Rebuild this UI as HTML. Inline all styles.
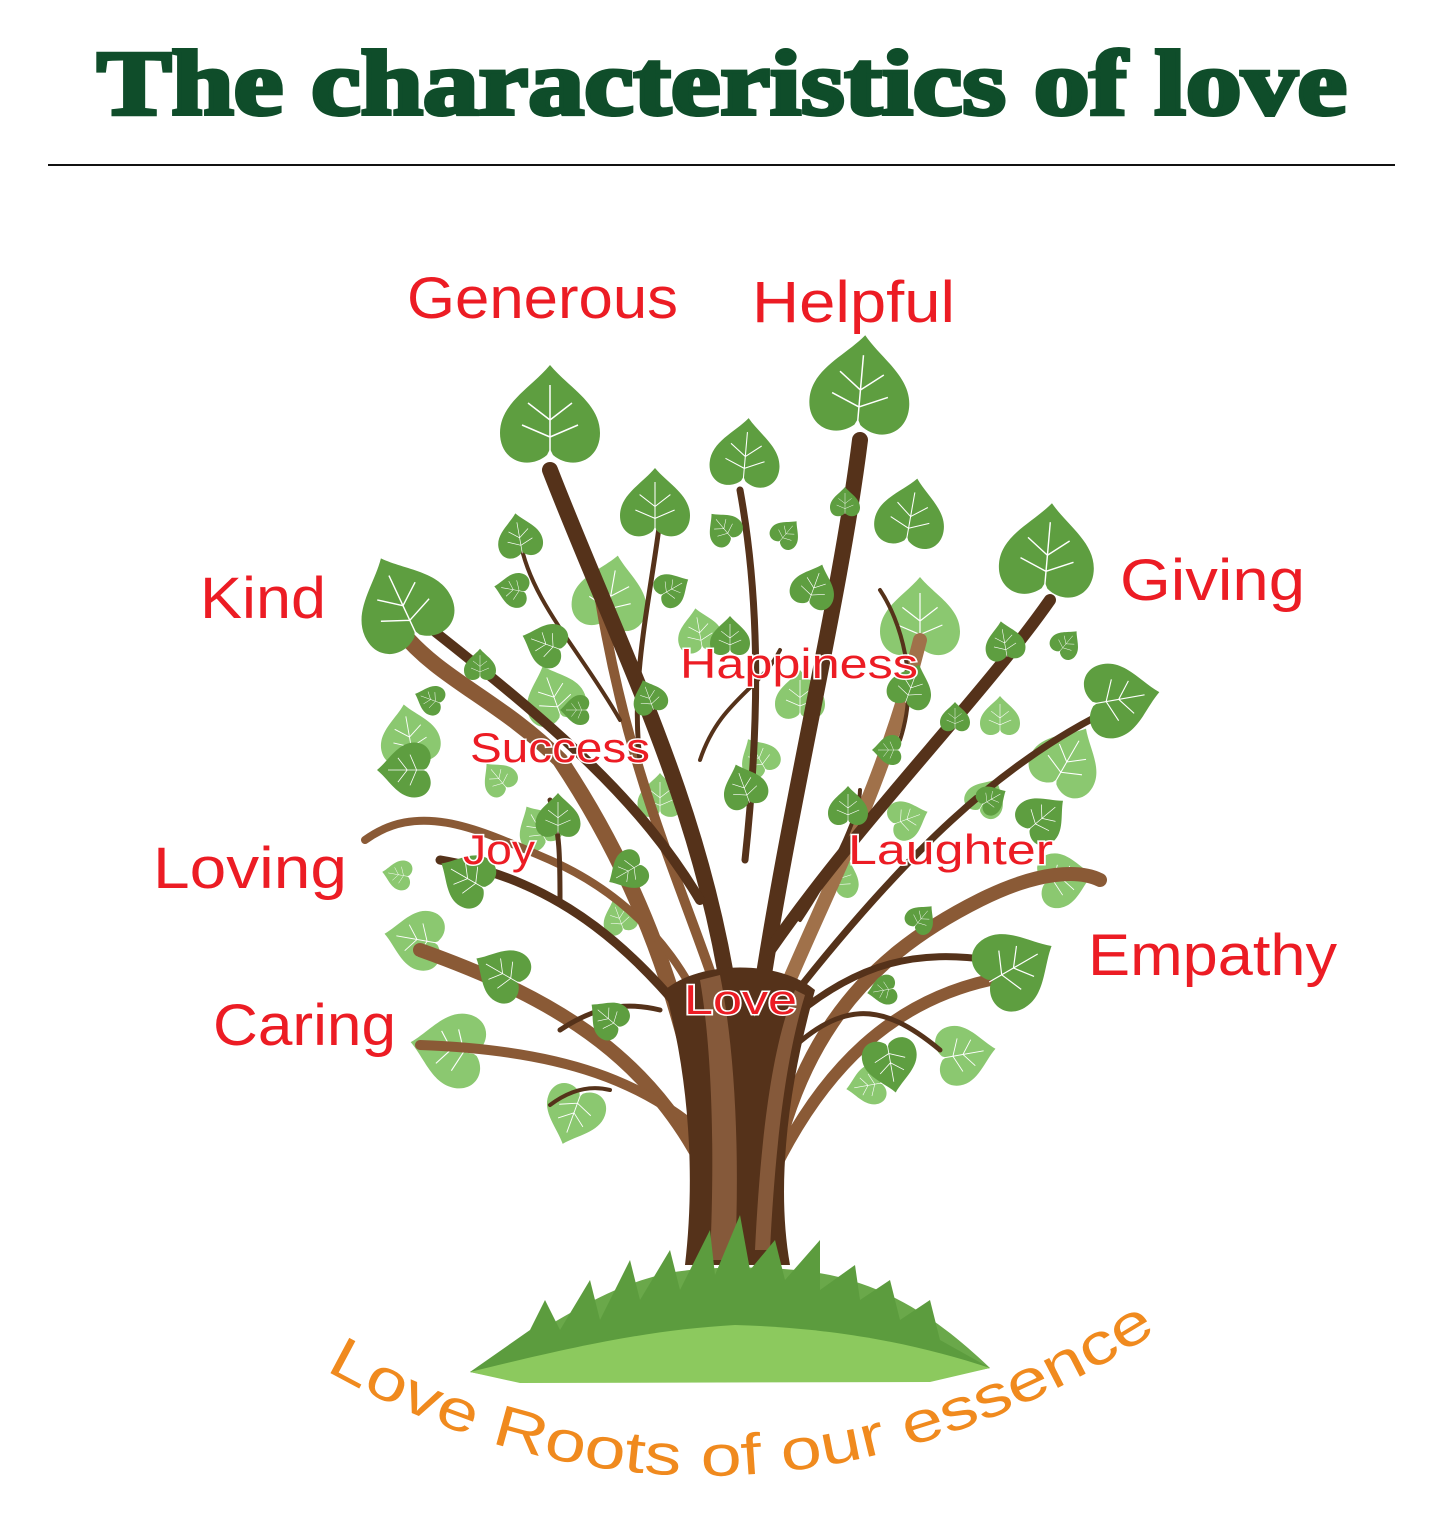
<!DOCTYPE html>
<html><head><meta charset="utf-8"><style>
html,body{margin:0;padding:0;background:#fff}
svg{display:block}
.lb{font-family:"Liberation Sans",sans-serif;fill:#ec1c24}
.in{font-family:"Liberation Sans",sans-serif;fill:#ec1c24;stroke:#fff;stroke-width:3;paint-order:stroke}
</style></head><body>
<svg width="1442" height="1536" viewBox="0 0 1442 1536" xmlns="http://www.w3.org/2000/svg">
<defs>
<path id="lf" d="M0,-60 C18,-38 50,-22 50,8 C50,36 22,46 3,30 L0,24 L-3,30 C-22,46 -50,36 -50,8 C-50,-22 -18,-38 0,-60Z"/>
<g id="ld"><use href="#lf" fill="#5e9e40"/><path d="M0,30 L0,-40 M0,-5 L-22,-22 M0,-5 L22,-22 M0,12 L-28,0 M0,12 L28,0" stroke="#fff" stroke-width="1.5" fill="none"/></g>
<g id="ll"><use href="#lf" fill="#8bc870"/><path d="M0,30 L0,-40 M0,-5 L-22,-22 M0,-5 L22,-22 M0,12 L-28,0 M0,12 L28,0" stroke="#fff" stroke-width="1.5" fill="none"/></g>
</defs>
<text x="722" y="114" text-anchor="middle" font-family="Liberation Serif,serif" font-weight="bold" font-size="92" fill="#0f4d2a" textLength="1250" lengthAdjust="spacingAndGlyphs" stroke="#0f4d2a" stroke-width="4">The characteristics of love</text>
<line x1="48" y1="165" x2="1395" y2="165" stroke="#111" stroke-width="2"/>

<g>
<use href="#ll" transform="translate(610,600) rotate(10) scale(.75)"/>
<use href="#ll" transform="translate(920,625) rotate(0) scale(.8)"/>
<use href="#ll" transform="translate(410,740) rotate(-10) scale(.6)"/>
<use href="#ll" transform="translate(555,700) rotate(-20) scale(.6)"/>
<use href="#ll" transform="translate(1065,765) rotate(30) scale(.7)"/>
<use href="#ll" transform="translate(1060,880) rotate(80) scale(.55)"/>
<use href="#ll" transform="translate(420,940) rotate(-80) scale(.6)"/>
<use href="#ll" transform="translate(455,1050) rotate(-80) scale(.75)"/>
<use href="#ll" transform="translate(575,1110) rotate(-160) scale(.6)"/>
<use href="#ll" transform="translate(960,1055) rotate(80) scale(.6)"/>
<use href="#ll" transform="translate(870,1085) rotate(-100) scale(.4)"/>
<use href="#ll" transform="translate(700,635) rotate(-10) scale(.45)"/>
<use href="#ll" transform="translate(760,760) rotate(-30) scale(.4)"/>
<use href="#ll" transform="translate(905,820) rotate(70) scale(.4)"/>
<use href="#ll" transform="translate(540,830) rotate(-30) scale(.45)"/>
<use href="#ll" transform="translate(620,920) rotate(-20) scale(.35)"/>
<use href="#ll" transform="translate(985,800) rotate(30) scale(.4)"/>
<use href="#ll" transform="translate(400,875) rotate(-80) scale(.3)"/>
<use href="#ll" transform="translate(800,700) rotate(0) scale(.5)"/>
<use href="#ll" transform="translate(660,800) rotate(0) scale(.45)"/>
<use href="#ll" transform="translate(840,880) rotate(20) scale(.4)"/>
<use href="#ll" transform="translate(1000,720) rotate(0) scale(.4)"/>
<use href="#ll" transform="translate(500,780) rotate(-40) scale(.35)"/>
</g>

<g fill="none" stroke-linecap="round">
<path d="M720,1250 C700,1000 620,850 560,760 C500,700 440,680 400,630" stroke="#8a5a36" stroke-width="16"/>
<path d="M740,1150 C720,980 640,900 550,860 C480,830 420,800 365,840" stroke="#8a5a36" stroke-width="8"/>
<path d="M720,1200 C660,1060 560,1000 420,950" stroke="#8a5a36" stroke-width="14"/>
<path d="M720,1150 C650,1080 560,1050 420,1045" stroke="#8a5a36" stroke-width="10"/>
<path d="M760,1250 C780,1050 860,960 980,900 C1040,870 1080,870 1100,880" stroke="#8a5a36" stroke-width="14"/>
<path d="M760,1200 C820,1060 900,1000 990,980" stroke="#8a5a36" stroke-width="12"/>
<path d="M760,1050 C820,900 880,800 920,640" stroke="#a0714a" stroke-width="14"/>
<path d="M720,1000 C680,880 630,780 600,600" stroke="#8a5a36" stroke-width="10"/>
<g stroke="#55321a">
<path d="M730,1000 C700,800 620,650 550,470" stroke-width="16"/>
<path d="M760,1000 C790,800 840,600 860,440" stroke-width="16"/>
<path d="M745,860 C760,720 760,600 740,490" stroke-width="7"/>
<path d="M770,950 C860,820 980,700 1050,600" stroke-width="12"/>
<path d="M790,1000 C900,860 1000,760 1120,705" stroke-width="7"/>
<path d="M700,900 C640,800 560,730 420,620" stroke-width="10"/>
<path d="M720,1060 C640,950 560,880 440,860" stroke-width="9"/>
<path d="M790,1020 C860,960 920,950 990,960" stroke-width="7"/>
<path d="M780,1060 C840,1000 880,1000 940,1050" stroke-width="5"/>
<path d="M640,760 C630,680 650,600 660,520" stroke-width="5"/>
<path d="M700,760 C720,700 760,690 780,650" stroke-width="4"/>
<path d="M620,720 C580,650 530,600 520,540" stroke-width="4"/>
<path d="M900,740 C920,680 900,620 880,590" stroke-width="4"/>
<path d="M560,900 C560,860 560,830 550,800" stroke-width="5"/>
<path d="M660,1010 C620,1000 590,1010 560,1030" stroke-width="5"/>
<path d="M610,1090 C590,1085 570,1090 550,1105" stroke-width="4"/>
<path d="M800,920 C840,860 860,810 860,790" stroke-width="4"/>
</g>
</g>
<path d="M685,1265 C695,1180 690,1080 665,990 C700,960 780,960 815,990 C790,1080 775,1180 790,1265 Z" fill="#55321a"/>
<path d="M710,1260 C715,1150 712,1050 700,980 L720,975 C735,1050 740,1150 735,1260Z" fill="#85593a"/>
<path d="M755,1250 C760,1150 770,1050 795,990 L805,995 C785,1060 775,1150 770,1250Z" fill="#85593a"/>

<g>
<use href="#ld" transform="translate(550,425) rotate(0) scale(1)"/>
<use href="#ld" transform="translate(860,395) rotate(5) scale(1)"/>
<use href="#ld" transform="translate(745,460) rotate(5) scale(.7)"/>
<use href="#ld" transform="translate(655,510) rotate(0) scale(.7)"/>
<use href="#ld" transform="translate(910,520) rotate(10) scale(.7)"/>
<use href="#ld" transform="translate(1047,560) rotate(5) scale(.95)"/>
<use href="#ld" transform="translate(405,610) rotate(-25) scale(.95)"/>
<use href="#ld" transform="translate(1115,700) rotate(80) scale(.75)"/>
<use href="#ld" transform="translate(520,540) rotate(-10) scale(.45)"/>
<use href="#ld" transform="translate(480,668) rotate(0) scale(.32)"/>
<use href="#ld" transform="translate(548,645) rotate(-70) scale(.45)"/>
<use href="#ld" transform="translate(813,590) rotate(20) scale(.45)"/>
<use href="#ld" transform="translate(725,530) rotate(-40) scale(.35)"/>
<use href="#ld" transform="translate(785,535) rotate(40) scale(.3)"/>
<use href="#ld" transform="translate(845,505) rotate(0) scale(.3)"/>
<use href="#ld" transform="translate(515,590) rotate(-80) scale(.35)"/>
<use href="#ld" transform="translate(670,590) rotate(60) scale(.35)"/>
<use href="#ld" transform="translate(1005,645) rotate(-10) scale(.4)"/>
<use href="#ld" transform="translate(1065,645) rotate(40) scale(.3)"/>
<use href="#ld" transform="translate(410,770) rotate(-90) scale(.55)"/>
<use href="#ld" transform="translate(432,700) rotate(-70) scale(.3)"/>
<use href="#ld" transform="translate(558,820) rotate(0) scale(.45)"/>
<use href="#ld" transform="translate(745,790) rotate(-20) scale(.45)"/>
<use href="#ld" transform="translate(848,810) rotate(0) scale(.4)"/>
<use href="#ld" transform="translate(910,690) rotate(20) scale(.45)"/>
<use href="#ld" transform="translate(730,640) rotate(0) scale(.4)"/>
<use href="#ld" transform="translate(470,880) rotate(-60) scale(.55)"/>
<use href="#ld" transform="translate(630,870) rotate(-120) scale(.4)"/>
<use href="#ld" transform="translate(505,975) rotate(-60) scale(.55)"/>
<use href="#ld" transform="translate(610,1020) rotate(-50) scale(.4)"/>
<use href="#ld" transform="translate(1010,970) rotate(60) scale(.8)"/>
<use href="#ld" transform="translate(890,1060) rotate(170) scale(.55)"/>
<use href="#ld" transform="translate(1040,820) rotate(50) scale(.5)"/>
<use href="#ld" transform="translate(990,800) rotate(60) scale(.3)"/>
<use href="#ld" transform="translate(920,920) rotate(40) scale(.3)"/>
<use href="#ld" transform="translate(885,990) rotate(-100) scale(.3)"/>
<use href="#ld" transform="translate(955,720) rotate(0) scale(.3)"/>
<use href="#ld" transform="translate(890,750) rotate(-90) scale(.3)"/>
<use href="#ld" transform="translate(650,700) rotate(-20) scale(.35)"/>
<use href="#ld" transform="translate(578,710) rotate(-90) scale(.3)"/>
</g>

<g>
<path d="M470,1372 C560,1320 600,1290 660,1275 C700,1265 780,1265 830,1275 C900,1290 950,1330 990,1368 L930,1380 L520,1382Z" fill="#6aa84a"/>
<path d="M470,1372 L530,1330 L545,1300 L560,1330 L590,1280 L600,1320 L630,1260 L640,1300 L670,1250 L680,1290 L710,1230 L715,1275 L740,1215 L750,1270 L775,1240 L785,1280 L820,1240 L820,1290 L855,1265 L860,1300 L890,1280 L900,1320 L930,1300 L940,1340 L990,1368 L900,1380 L540,1382Z" fill="#5c9c3e"/>
<path d="M470,1372 C580,1345 650,1330 735,1325 C840,1328 920,1345 990,1368 L930,1382 L520,1383Z" fill="#8cc95e"/>
</g>

<g class="lb" font-size="58">
<text x="407" y="318" textLength="271" lengthAdjust="spacingAndGlyphs">Generous</text>
<text x="752" y="322" textLength="203" lengthAdjust="spacingAndGlyphs">Helpful</text>
<text x="200" y="618" textLength="126" lengthAdjust="spacingAndGlyphs">Kind</text>
<text x="1120" y="600" textLength="185" lengthAdjust="spacingAndGlyphs">Giving</text>
<text x="153" y="888" textLength="194" lengthAdjust="spacingAndGlyphs">Loving</text>
<text x="1088" y="975" textLength="249" lengthAdjust="spacingAndGlyphs">Empathy</text>
<text x="213" y="1045" textLength="183" lengthAdjust="spacingAndGlyphs">Caring</text>
</g>
<g class="in" font-size="42">
<text x="680" y="678" textLength="238" lengthAdjust="spacingAndGlyphs">Happiness</text>
<text x="470" y="762" textLength="180" lengthAdjust="spacingAndGlyphs">Success</text>
<text x="463" y="864" textLength="72" lengthAdjust="spacingAndGlyphs">Joy</text>
<text x="848" y="864" textLength="205" lengthAdjust="spacingAndGlyphs">Laughter</text>
<text x="684" y="1014" textLength="113" lengthAdjust="spacingAndGlyphs">Love</text>
</g>
<path id="arc" d="M325,1370 Q735,1600 1160,1330" fill="none"/>
<text font-family="Liberation Sans,sans-serif" font-size="58" fill="#f08a1e"><textPath href="#arc" startOffset="0" textLength="880" lengthAdjust="spacingAndGlyphs">Love Roots of our essence</textPath></text>
</svg>
</body></html>
